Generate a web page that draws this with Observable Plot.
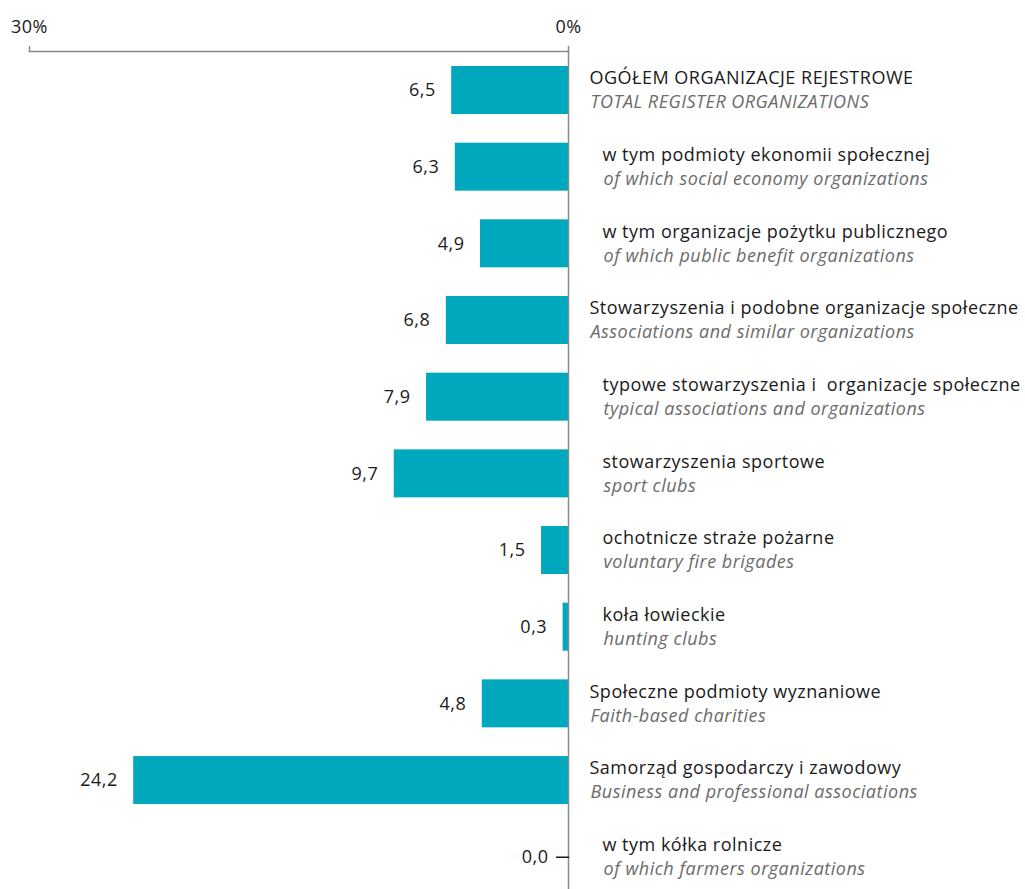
<!DOCTYPE html>
<html><head><meta charset="utf-8">
<script src="https://cdn.jsdelivr.net/npm/d3@7"></script>
<script src="https://cdn.jsdelivr.net/npm/@observablehq/plot@0.6"></script>
<style>body{margin:0;background:#fff} svg{display:block} svg text{white-space:pre}</style>
</head><body><div id="chart"></div>
<script>
const polish = [
  "OGÓŁEM ORGANIZACJE REJESTROWE",
  "w tym podmioty ekonomii społecznej",
  "w tym organizacje pożytku publicznego",
  "Stowarzyszenia i podobne organizacje społeczne",
  "typowe stowarzyszenia i  organizacje społeczne",
  "stowarzyszenia sportowe",
  "ochotnicze straże pożarne",
  "koła łowieckie",
  "Społeczne podmioty wyznaniowe",
  "Samorząd gospodarczy i zawodowy",
  "w tym kółka rolnicze"
];
const english = [
  "TOTAL REGISTER ORGANIZATIONS",
  "of which social economy organizations",
  "of which public benefit organizations",
  "Associations and similar organizations",
  "typical associations and organizations",
  "sport clubs",
  "voluntary fire brigades",
  "hunting clubs",
  "Faith-based charities",
  "Business and professional associations",
  "of which farmers organizations"
];
const values = [6.5, 6.3, 4.9, 6.8, 7.9, 9.7, 1.5, 0.3, 4.8, 24.2, 0.0];
const levels = [0, 1, 1, 0, 1, 1, 1, 1, 0, 0, 1];
const xTicks = [0, 30];

const data = polish.map((p, i) => ({pl: p, en: english[i], value: values[i], level: levels[i]}));
const fmt = v => v.toFixed(1).replace(".", ",");
const font = "Open Sans";
const fs = 18;

const chart = Plot.plot({
  width: 1025, height: 889,
  marginTop: 51, marginLeft: 29, marginRight: 457, marginBottom: 0,
  style: {fontFamily: font, fontSize: fs + "px", background: "#fff", letterSpacing: "0.5px"},
  x: {domain: [0, 30], reverse: true, label: null},
  y: {domain: polish, range: [66, 880.7], paddingInner: 0.374, paddingOuter: 0, round: false, axis: null},
  marks: [
    Plot.barX(data, {x: "value", y: "pl", fill: "#00a8bd"}),
    Plot.frame({anchor: "top", stroke: "#8a8a8a", strokeWidth: 1.5}),
    Plot.ruleX([0], {stroke: "#8a8a8a", strokeWidth: 1.5}),
    Plot.axisX(xTicks, {anchor: "top", tickSize: 6, tickPadding: 13, tickFormat: d => d + "%", label: null,
      stroke: "#8a8a8a", strokeWidth: 1.5, fill: "#1a1a1a", fontSize: fs, fontFamily: font}),
    Plot.vector(data.filter(d => d.value === 0), {x: "value", y: "pl", length: 12, rotate: 270, anchor: "start",
      stroke: "#1a1a1a", strokeWidth: 1.5,
      shape: {draw(ctx, l) { ctx.moveTo(0, 0); ctx.lineTo(0, -l); }}}),
    Plot.text(data.filter(d => d.value !== 0), {x: "value", y: "pl", text: d => fmt(d.value),
      textAnchor: "end", dx: -16, fill: "#1a1a1a", fontSize: fs}),
    Plot.text(data.filter(d => d.value === 0), {x: "value", y: "pl", text: d => fmt(d.value),
      textAnchor: "end", dx: -20, fill: "#1a1a1a", fontSize: fs}),
    ...[0, 1].flatMap(lv => [
      Plot.text(data.filter(d => d.level === lv), {x: 0, y: "pl", text: "pl", textAnchor: "start",
        dx: lv ? 34 : 21, dy: -12, fill: "#1a1a1a", fontSize: fs}),
      Plot.text(data.filter(d => d.level === lv), {x: 0, y: "pl", text: "en", textAnchor: "start",
        dx: lv ? 35 : 22, dy: 12, fill: "#6b6b6b", fontStyle: "italic", fontSize: fs})
    ])
  ]
});
document.getElementById("chart").appendChild(chart);
</script>
</body></html>
